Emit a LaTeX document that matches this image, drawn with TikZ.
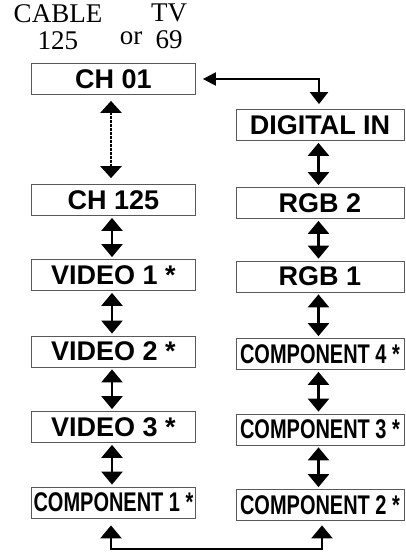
\documentclass[tikz,border=0pt]{standalone}
\usepackage{fontspec}
\setmainfont{Liberation Serif}
\newfontfamily\boxfont{Liberation Sans}
\newfontfamily\narrowfont[FakeStretch=0.74]{Liberation Sans}
\usetikzlibrary{arrows.meta}

\tikzset{
  chbox/.style={draw=black!65, line width=0.8pt, minimum height=31pt, inner sep=0pt,
    font=\boxfont\bfseries\fontsize{27}{30}\selectfont},
  leftbox/.style={chbox, minimum width=164pt},
  rightbox/.style={chbox, minimum width=168pt},
  narrowtext/.style={font=\narrowfont\bfseries\fontsize{27}{30}\selectfont},
  toplabel/.style={inner sep=0pt, align=center, font=\fontsize{27}{27}\selectfont},
  dblarrow/.style={{Triangle[width=21pt,length=13pt]}-{Triangle[width=21pt,length=13pt]},
    line width=2.5pt, shorten <=2pt, shorten >=2pt}
}

\begin{document}
\begin{tikzpicture}[x=1pt,y=-1pt]
  \useasboundingbox (0,0) rectangle (405,552);

  % Labels above the first channel
  \node[toplabel, anchor=north] (cable) at (58,4) {CABLE\\125};
  \node[toplabel, anchor=north] (tv) at (169,4) {TV\\69};
  \node[toplabel] (or) at (131,38) {or};

  % Left column of inputs
  \node[leftbox] (ch01)   at (113.5,79)    {CH 01};
  \node[leftbox] (ch125)  at (113.5,200)   {CH 125};
  \node[leftbox] (video1) at (113.5,275)   {VIDEO 1 *};
  \node[leftbox] (video2) at (113.5,351.5) {VIDEO 2 *};
  \node[leftbox] (video3) at (113.5,427)   {VIDEO 3 *};
  \node[leftbox, narrowtext] (comp1) at (113.5,502.5) {COMPONENT 1 *};

  % Right column of inputs
  \node[rightbox] (digital) at (320,125)   {DIGITAL IN};
  \node[rightbox] (rgb2)    at (320,203)   {RGB 2};
  \node[rightbox] (rgb1)    at (320,276.5) {RGB 1};
  \node[rightbox, narrowtext] (comp4) at (320,354)   {COMPONENT 4 *};
  \node[rightbox, narrowtext] (comp3) at (320,429.5) {COMPONENT 3 *};
  \node[rightbox, narrowtext] (comp2) at (320,505)   {COMPONENT 2 *};

  % Dotted jump through the skipped channels
  \draw[{Triangle[width=21pt,length=12pt]}-{Triangle[width=21pt,length=12pt]},
        line width=2.8pt, dash pattern=on 2.5pt off 1.5pt, shorten <=6pt, shorten >=6pt]
        ([xshift=-2.5pt]ch125.north) -- ([xshift=-2.5pt]ch01.south);

  % Step arrows down each column
  \foreach \a/\b in {ch125/video1, video1/video2, video2/video3, video3/comp1,
                     digital/rgb2, rgb2/rgb1, rgb1/comp4, comp4/comp3, comp3/comp2}
    \draw[dblarrow] ([xshift=-1.5pt]\a.south) -- ([xshift=-1.5pt]\b.north);

  % Link from CH 01 over to DIGITAL IN
  \draw[{Triangle[width=13pt,length=13pt]}-{Triangle[width=18pt,length=12pt]},
        line width=2.2pt, shorten <=7pt, shorten >=5pt]
        (ch01.east) -| ([xshift=-1pt]digital.north);

  % Link along the bottom between the two columns
  \draw[{Triangle[width=21pt,length=13pt]}-{Triangle[width=21pt,length=13pt]},
        line width=2.5pt, shorten <=7pt, shorten >=4.5pt]
        ([xshift=-2.5pt]comp1.south) -- ++(0,30.5) -| ([xshift=2pt]comp2.south);
\end{tikzpicture}
\end{document}
